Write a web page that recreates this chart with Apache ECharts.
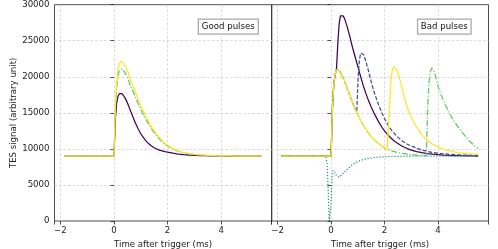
<!DOCTYPE html>
<html><head><meta charset="utf-8">
<script src="https://cdn.jsdelivr.net/npm/echarts@6/dist/echarts.min.js"></script>
<style>html,body{margin:0;padding:0;background:#fff}#c{width:498px;height:249px}</style>
</head><body><div id="c"></div>
<script>
// time grid (ms) shared by the main pulses
const tPulse = [-1.85, 0, 0.05, 0.1, 0.15, 0.2, 0.25, 0.3, 0.35, 0.4, 0.45, 0.5,
  0.6, 0.7, 0.8, 0.9, 1.0, 1.1, 1.2, 1.3, 1.4, 1.5, 1.6, 1.7, 1.8, 1.9, 2.0,
  2.1, 2.2, 2.3, 2.4, 2.5, 2.6, 2.7, 2.8, 2.9, 3.0,
  3.2, 3.4, 3.6, 3.8, 4.0, 4.2, 4.4, 4.6, 4.8, 5.0, 5.2, 5.5];

// Good pulses (left panel)
const goodPurple = [9000, 9000, 14000, 16400, 17300, 17650, 17700, 17650, 17450, 17150, 16800, 16400,
  15450, 14500, 13600, 12800, 12100, 11550, 11080, 10700, 10400, 10160, 9980, 9840, 9720, 9620, 9540,
  9470, 9400, 9340, 9290, 9250, 9210, 9180, 9150, 9130, 9110,
  9080, 9060, 9045, 9030, 9020, 9015, 9010, 9005, 9000, 9000, 9000, 9000];
const goodGreen = [9000, 9000, 15300, 18550, 20150, 20850, 21100, 21100, 20900, 20650, 20300, 19950,
  18880, 18050, 17180, 16300, 15470, 14730, 14030, 13390, 12790, 12240, 11770, 11360, 10990, 10660, 10390,
  10160, 9950, 9790, 9670, 9550, 9460, 9390, 9320, 9280, 9230,
  9170, 9120, 9080, 9060, 9040, 9030, 9020, 9010, 9005, 9000, 9000, 9000];
const goodYellow = [9000, 9000, 15800, 19300, 21000, 21800, 22100, 22100, 21900, 21600, 21250, 20850,
  19700, 18800, 17850, 16900, 16000, 15200, 14450, 13750, 13100, 12500, 12000, 11550, 11150, 10800, 10500,
  10250, 10030, 9860, 9720, 9600, 9500, 9420, 9350, 9300, 9250,
  9180, 9130, 9090, 9065, 9045, 9030, 9020, 9010, 9005, 9000, 9000, 9000];

// Bad pulses (right panel)
const badFirst = [9000, 9000, 15600, 18900, 20350, 20950, 21100, 20900, 20600, 20250, 19850, 19400,
  18400, 17400, 16450, 15550, 14750, 13980, 13300, 12700, 12180, 11720, 11300, 10950, 10650, 10380, 10150,
  9970, 9820, 9690, 9580, 9490, 9420, 9360, 9300, 9250, 9210,
  9150, 9110, 9075, 9050, 9040, 9025, 9015, 9010, 9005, 9000, 9000, 9000];
const badPurple = [9000, 9000, 15600, 18900, 20350, 20950, 24500, 27300, 28450, 28650, 28450, 28100,
  27000, 25600, 24100, 22750, 21450, 20100, 18800, 17700, 16700, 15800, 15000, 14300, 13600, 13000, 12500,
  12050, 11650, 11300, 11000, 10750, 10500, 10300, 10120, 9970, 9840,
  9630, 9470, 9350, 9260, 9190, 9140, 9100, 9070, 9050, 9035, 9025, 9015];

const blueOnset = 0.96;
const blueT = [0.96, 1.01, 1.06, 1.11, 1.16, 1.21, 1.27, 1.4, 1.5, 1.6, 1.7, 1.8, 1.9, 2.0, 2.1, 2.2, 2.3,
  2.4, 2.5, 2.6, 2.7, 2.8, 2.9, 3.0, 3.2, 3.4, 3.6, 3.8, 4.0, 4.2, 4.4, 4.6, 4.8, 5.0, 5.2, 5.5];
const blueV = [15100, 19800, 22400, 23300, 23400, 23100, 22500, 20800, 19300, 18000, 16900, 15900, 15000,
  14200, 13500, 12900, 12400, 12000, 11600, 11300, 11000, 10750, 10550, 10400, 10100, 9850, 9650, 9500,
  9400, 9320, 9260, 9210, 9170, 9140, 9120, 9100];

const tealT = [-1.85, -0.2, -0.15, -0.1, -0.07, -0.03, 0.0, 0.03, 0.06, 0.1, 0.15, 0.2, 0.25, 0.3, 0.35,
  0.4, 0.5, 0.6, 0.7, 0.8, 0.9, 1.0, 1.2, 1.4, 1.6, 1.8, 2.0, 2.5, 3.0, 3.5, 4.0, 5.0, 5.5];
const tealV = [9000, 9000, 8000, 3500, 0, 0, 2500, 5500, 7000, 7100, 6700, 6300, 6100, 6080, 6200,
  6400, 6800, 7150, 7500, 7800, 8050, 8250, 8520, 8700, 8800, 8870, 8920, 8970, 8990, 9000, 9000, 9000, 9000];

const yellowOnset = 2.14;
const yellowT = [2.14, 2.19, 2.24, 2.29, 2.34, 2.39, 2.45, 2.5, 2.6, 2.7, 2.8, 2.9, 3.0, 3.1, 3.2, 3.3,
  3.4, 3.5, 3.6, 3.7, 3.8, 3.9, 4.0, 4.2, 4.4, 4.6, 4.8, 5.0, 5.2, 5.5];
const yellowV = [9980, 16200, 19700, 21000, 21400, 21400, 21000, 20600, 19200, 17700, 16400, 15300, 14400,
  13650, 13000, 12450, 11950, 11550, 11200, 10900, 10650, 10450, 10250, 9950, 9750, 9580, 9460, 9380, 9320, 9260];

const greenOnset = 3.56;
const greenT = [3.56, 3.61, 3.66, 3.71, 3.76, 3.81, 3.86, 3.9, 4.0, 4.1, 4.2, 4.3, 4.4, 4.5, 4.6, 4.7,
  4.8, 4.9, 5.0, 5.1, 5.2, 5.3, 5.4, 5.5];
const greenV = [9070, 15500, 19200, 20700, 21200, 21150, 20700, 20200, 18700, 17600, 16700, 15900, 15150,
  14450, 13850, 13300, 12800, 12300, 11850, 11400, 11000, 10650, 10350, 10050];

const yTicks = [0, 5000, 10000, 15000, 20000, 25000, 30000];
const xTicks = [-2, 0, 2, 4];
const panelTitles = ['Good pulses', 'Bad pulses'];
const xLabel = 'Time after trigger (ms)';
const yLabel = 'TES signal (arbitrary unit)';

const COL = {purple: '#440154', blue: '#3b528b', teal: '#21918c', green: '#5ec962', yellow: '#fde725'};
const DASH = [4, 1.8], DOT = [1.2, 1.8], DASHDOT = [6, 1.8, 1.2, 1.8];
const FONT = 'DejaVu Sans';

function pairs(T, V) { return T.map((t, i) => [t, V[i]]); }
function pileUp(onset, T, V) {
  return pairs(tPulse, badFirst).filter(p => p[0] < onset).concat(pairs(T, V));
}
function fmt(v) { return v < 0 ? '\u2212' + Math.abs(v) : String(v); }

const gridLine = {show: true, showMinLine: false, showMaxLine: false,
  lineStyle: {color: '#cfcfcf', width: 0.8, type: [2.5, 2]}};
function xAxisCfg(idx) {
  return {
    type: 'value', gridIndex: idx, min: -2.22, max: 5.886, splitNumber: 4,
    axisLine: {show: false},
    axisTick: {show: true, length: 3.5, lineStyle: {color: '#222', width: 0.8}},
    axisLabel: {fontFamily: FONT, fontSize: 8.6, color: '#222', margin: 5,
      formatter: v => xTicks.some(t => Math.abs(t - v) < 1e-6) ? fmt(v) : ''},
    splitLine: gridLine,
    name: xLabel, nameLocation: 'middle', nameGap: 15,
    nameTextStyle: {fontFamily: FONT, fontSize: 8.6, color: '#222'}
  };
}
function yAxisCfg(idx) {
  return {
    type: 'value', gridIndex: idx, min: yTicks[0], max: yTicks[yTicks.length - 1], interval: 5000,
    axisLine: {show: false},
    axisTick: {show: true, length: 3.5, lineStyle: {color: '#222', width: 0.8}},
    axisLabel: {show: idx === 0, fontFamily: FONT, fontSize: 8.6, color: '#222', margin: 5,
      formatter: v => String(v)},
    splitLine: gridLine,
    name: idx === 0 ? yLabel : '', nameLocation: 'middle', nameGap: 36,
    nameTextStyle: {fontFamily: FONT, fontSize: 8.6, color: '#222'}
  };
}
function line(name, data, color, type, panel) {
  return {name, type: 'line', data, xAxisIndex: panel, yAxisIndex: panel, showSymbol: false,
    symbol: 'none', clip: true, animation: false,
    lineStyle: {color, width: 1.25, type}};
}

const series = [
  line('good purple', pairs(tPulse, goodPurple), COL.purple, 'solid', 0),
  line('good green', pairs(tPulse, goodGreen), COL.green, DASHDOT, 0),
  line('good yellow', pairs(tPulse, goodYellow), COL.yellow, 'solid', 0),
  line('bad purple', pairs(tPulse, badPurple), COL.purple, 'solid', 1),
  line('bad blue', pileUp(blueOnset, blueT, blueV), COL.blue, DASH, 1),
  line('bad teal', pairs(tealT, tealV), COL.teal, DOT, 1),
  line('bad green', pileUp(greenOnset, greenT, greenV), COL.green, DASHDOT, 1),
  line('bad yellow', pileUp(yellowOnset, yellowT, yellowV), COL.yellow, 'solid', 1)
];

function legendBox(cx, cy, w, text) {
  return {type: 'group', children: [
    {type: 'rect', shape: {x: cx - w / 2, y: cy - 7.5, width: w, height: 15},
      style: {fill: '#fff', stroke: '#a8a8a8', lineWidth: 1.3}, z: 100},
    {type: 'text', x: cx, y: cy, z: 101,
      style: {text, font: '8.6px "DejaVu Sans"', fill: '#111', align: 'center', verticalAlign: 'middle'}}
  ]};
}

const chart = echarts.init(document.getElementById('c'), null, {renderer: 'canvas'});
chart.setOption({
  animation: false,
  backgroundColor: '#fff',
  grid: [
    {left: 54.5, top: 4.7, width: 217.2, height: 216.3, show: true, borderColor: '#222', borderWidth: 0.8,
      outerBoundsMode: 'none', containLabel: false},
    {left: 271.7, top: 4.7, width: 216.8, height: 216.3, show: true, borderColor: '#222', borderWidth: 0.8,
      outerBoundsMode: 'none', containLabel: false}
  ],
  xAxis: [xAxisCfg(0), xAxisCfg(1)],
  yAxis: [yAxisCfg(0), yAxisCfg(1)],
  series,
  graphic: [legendBox(228.3, 26.7, 60, panelTitles[0]), legendBox(444.3, 26.7, 53.5, panelTitles[1])]
});
</script></body></html>
